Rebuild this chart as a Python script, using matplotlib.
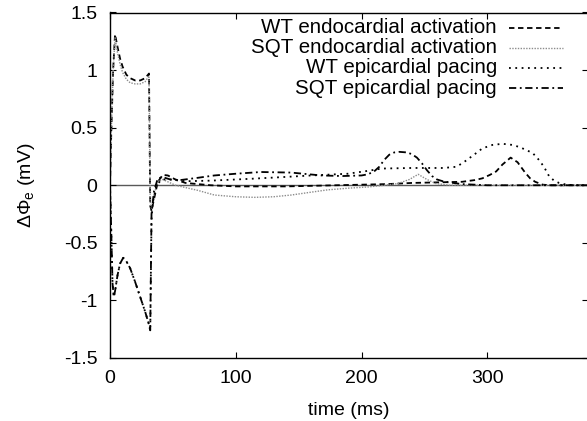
import matplotlib
matplotlib.use("Agg")
import matplotlib.pyplot as plt
from matplotlib.lines import Line2D

plt.rcParams['font.family'] = ['Liberation Sans', 'DejaVu Sans']
plt.rcParams['mathtext.fontset'] = 'custom'
plt.rcParams['mathtext.rm'] = 'Liberation Sans'
plt.rcParams['mathtext.it'] = 'Liberation Sans:italic'

# ---- data ----
wt_endo_t = [0, 1, 2.5, 4, 6, 8, 10, 13, 16, 20, 24, 28, 31, 32, 33, 35, 38, 42, 46, 52,
             60, 70, 80, 100, 120, 140, 160, 180, 200, 220, 240, 260, 280, 290, 296, 302, 307, 312, 318.5, 324,
             330, 334, 338, 344, 350, 380]
wt_endo_v = [0, 0.45, 1.0, 1.31, 1.2, 1.1, 1.03, 0.96, 0.93, 0.91, 0.91, 0.93, 0.97, -0.18, -0.22, -0.12, 0.03, 0.09, 0.085, 0.05,
             0.02, 0.01, 0.0, -0.01, -0.01, -0.01, -0.005, 0.0, 0.005, 0.01, 0.02, 0.025, 0.03, 0.045, 0.06, 0.09, 0.12, 0.18, 0.24, 0.2,
             0.11, 0.06, 0.03, 0.005, 0.0, 0.0]

sqt_endo_t = [0, 1, 2.5, 4, 6, 8, 10, 13, 16, 20, 24, 28, 31, 32, 33, 35, 38, 42, 46, 52,
              60, 70, 83, 100, 115, 130, 144, 160, 173, 190, 205, 218, 229, 238, 245, 252, 259, 270, 300, 380]
sqt_endo_v = [0, 0.45, 1.0, 1.28, 1.15, 1.05, 0.98, 0.92, 0.89, 0.88, 0.88, 0.9, 0.95, -0.15, -0.2, -0.08, 0.03, 0.05, 0.03, 0.0,
              -0.02, -0.045, -0.085, -0.1, -0.105, -0.1, -0.085, -0.06, -0.04, -0.025, -0.015, 0.0, 0.015, 0.05, 0.095, 0.05, 0.015, 0.0, 0.0, 0.0]

wt_epi_t = [0, 1, 2, 3, 4, 6, 8, 10.5, 13, 16, 20, 24, 28, 31, 32, 33, 34, 37, 41, 48,
            60, 80, 110, 136, 160, 189, 205, 216, 240, 265, 275, 280, 285, 290, 296, 304, 312, 320, 326, 336,
            341, 345, 349, 353, 357, 363, 370, 380]
wt_epi_v = [0, -0.4, -0.85, -0.97, -0.92, -0.78, -0.68, -0.63, -0.66, -0.72, -0.84, -0.97, -1.1, -1.21, -1.26, -0.3, -0.15, 0.0, 0.05, 0.05,
            0.035, 0.04, 0.055, 0.07, 0.085, 0.1, 0.125, 0.145, 0.15, 0.15, 0.16, 0.19, 0.23, 0.27, 0.32, 0.35, 0.36, 0.35, 0.33, 0.28,
            0.22, 0.16, 0.08, 0.04, 0.02, 0.005, 0.0, 0.0]

sqt_epi_t = [0, 1, 2, 3, 4, 6, 8, 10.5, 13, 16, 20, 24, 28, 31, 32, 33, 35, 38, 42, 48,
             56, 70, 83, 100, 120, 144, 168, 185, 200, 205, 210, 214, 218, 222, 226, 230, 236, 240, 244, 248,
             252, 256, 260, 266, 280, 300, 380]
sqt_epi_v = [0, -0.4, -0.85, -0.97, -0.92, -0.78, -0.68, -0.63, -0.66, -0.72, -0.84, -0.97, -1.1, -1.21, -1.26, -0.25, -0.05, 0.06, 0.07, 0.05,
             0.045, 0.065, 0.085, 0.1, 0.115, 0.11, 0.085, 0.08, 0.085, 0.095, 0.12, 0.16, 0.22, 0.265, 0.285, 0.29, 0.285, 0.27, 0.24, 0.19,
             0.13, 0.08, 0.05, 0.03, 0.01, 0.0, 0.0]

labels = ["WT endocardial activation", "SQT endocardial activation",
          "WT epicardial pacing", "SQT epicardial pacing"]
x_ticks = [0, 100, 200, 300]
y_ticks = [-1.5, -1, -0.5, 0, 0.5, 1, 1.5]
y_tick_labels = ["-1.5", "-1", "-0.5", "0", "0.5", "1", "1.5"]

# ---- figure ----
FS = 14
LFS = 14.8
fig = plt.figure(figsize=(5.87, 4.21), dpi=100)
L, R, T, B = 110, 588, 12.5, 358
W, H = 587, 421
ax = fig.add_axes([L / W, 1 - B / H, (R - L) / W, (B - T) / H])

ax.axhline(0, color='0.35', lw=1.0, zorder=1)

styles = [
    dict(color='black', lw=1.3, ls=(0, (3, 2))),
    dict(color='0.55', lw=1.0, ls=(0, (1, 1))),
    dict(color='black', lw=1.3, ls=(0, (1, 2.5))),
    dict(color='black', lw=1.3, ls=(0, (4, 2, 1, 2))),
]
series = [(wt_endo_t, wt_endo_v), (sqt_endo_t, sqt_endo_v),
          (wt_epi_t, wt_epi_v), (sqt_epi_t, sqt_epi_v)]
for (t, v), st in zip(series, styles):
    ax.plot(t, v, zorder=2, **st)

ax.set_xlim(0, 380)
ax.set_ylim(-1.5, 1.5)
ax.set_xticks(x_ticks)
ax.set_xticklabels([str(x) for x in x_ticks])
ax.set_yticks(y_ticks)
ax.set_yticklabels(y_tick_labels)
ax.tick_params(direction='in', top=True, right=True, length=4, width=0.8,
               labelsize=FS)
ax.tick_params(axis='x', pad=8.5)
ax.tick_params(axis='y', pad=9)
for s in ax.spines.values():
    s.set_linewidth(1.0)

ax.set_xlabel("time (ms)", fontsize=FS, labelpad=11)
ax.set_ylabel(r"$\mathrm{\Delta\Phi_e}$ (mV)", fontsize=FS, labelpad=19)

# legend (gnuplot style: right-aligned text, sample to the right)
text_x = (497 - L) / (R - L)
s0 = (509 - L) / (R - L)
s1 = (563 - L) / (R - L)
rows_px = [27.5, 47.5, 67.5, 88]
for lab, st, yp in zip(labels, styles, rows_px):
    yf = 1 - (yp - T) / (B - T)
    ax.text(text_x, yf, lab, ha='right', va='center', fontsize=LFS,
            transform=ax.transAxes)
    ax.add_line(Line2D([s0, s1], [yf, yf], transform=ax.transAxes, **st))

fig.savefig("out.png", dpi=100)
